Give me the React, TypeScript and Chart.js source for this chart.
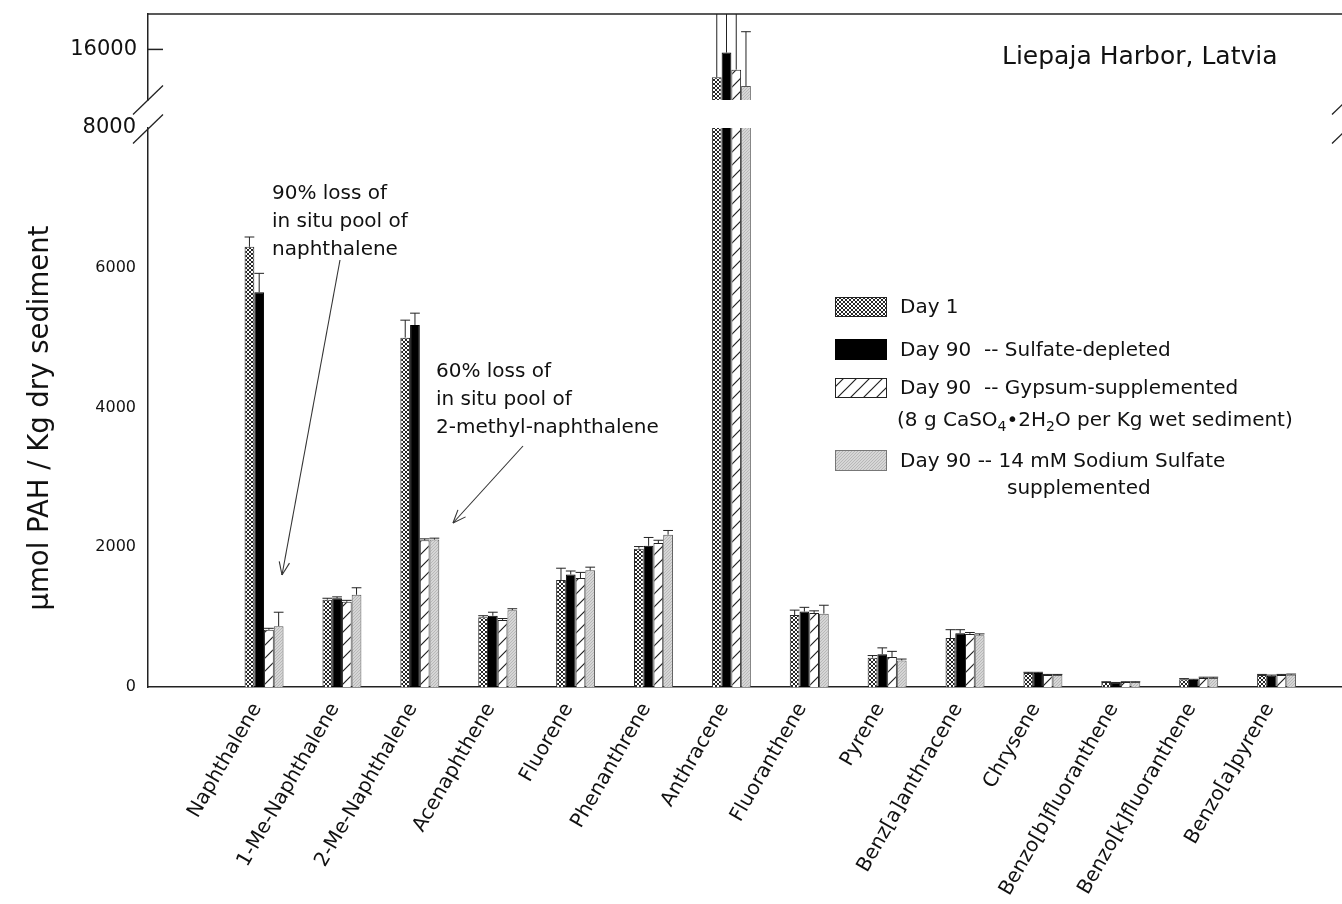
import React, { useEffect, useRef } from 'react';
import { Chart, registerables } from 'chart.js';

Chart.register(...registerables);

const FONT = '"DejaVu Sans", "Liberation Sans", Arial, sans-serif';

const categories = [
  'Naphthalene',
  '1-Me-Naphthalene',
  '2-Me-Naphthalene',
  'Acenaphthene',
  'Fluorene',
  'Phenanthrene',
  'Anthracene',
  'Fluoranthene',
  'Pyrene',
  'Benz[a]anthracene',
  'Chrysene',
  'Benzo[b]fluoranthene',
  'Benzo[k]fluoranthene',
  'Benzo[a]pyrene',
];

const seriesLabels = [
  'Day 1',
  'Day 90  -- Sulfate-depleted',
  'Day 90  -- Gypsum-supplemented',
  'Day 90 -- 14 mM Sodium Sulfate',
];

const day1 = [6300, 1250, 5000, 1000, 1530, 1980, 13800, 1030, 420, 700, 200, 70, 110, 170];
const day1Err = [140, 20, 250, 20, 170, 30, 6000, 70, 30, 120, 10, 5, 10, 10];
const sulfateDepleted = [5650, 1270, 5180, 1020, 1610, 2020, 15750, 1080, 470, 770, 200, 60, 100, 160];
const sulfateDepletedErr = [270, 20, 170, 50, 50, 120, 4000, 60, 90, 50, 10, 5, 10, 10];
const gypsum = [820, 1220, 2100, 960, 1560, 2060, 14400, 1060, 430, 760, 170, 70, 130, 170];
const gypsumErr = [20, 20, 20, 20, 80, 40, 5000, 30, 80, 20, 10, 5, 10, 10];
const sodiumSulfate = [870, 1320, 2110, 1100, 1670, 2180, 13100, 1050, 380, 740, 170, 70, 130, 175];
const sodiumSulfateErr = [200, 100, 20, 20, 45, 60, 4300, 120, 20, 20, 10, 5, 10, 10];

const lowerTicks = [0, 2000, 4000, 6000, 8000];
const upperTicks = [16000];
const lowerRange = [0, 8000];
const upperRange = [12000, 18800];
const xRange = [-1.49, 13.84];

const chartTitle = 'Liepaja Harbor, Latvia';
const yTitle = 'µmol PAH / Kg dry sediment';
const note1 = ['90% loss of', 'in situ pool of', 'naphthalene'];
const note2 = ['60% loss of', 'in situ pool of', '2-methyl-naphthalene'];
const gypsumDetail: [string, boolean][] = [
  ['(8 g CaSO', false],
  ['4', true],
  ['•2H', false],
  ['2', true],
  ['O per Kg wet sediment)', false],
];
const sodiumDetail = 'supplemented';

function makePatterns() {
  const mk = (w: number, h: number, draw: (g: CanvasRenderingContext2D) => void) => {
    const c = document.createElement('canvas');
    c.width = w;
    c.height = h;
    const g = c.getContext('2d')!;
    draw(g);
    return g.createPattern(c, 'repeat')!;
  };
  const dots = mk(4, 4, (g) => {
    g.fillStyle = '#fff';
    g.fillRect(0, 0, 4, 4);
    g.fillStyle = '#262626';
    [[1, 0], [2, 0], [0, 1], [3, 1], [0, 2], [3, 2], [1, 3], [2, 3]].forEach(([x, y]) => g.fillRect(x, y, 1, 1));
  });
  const hatch = mk(13, 13, (g) => {
    g.fillStyle = '#fff';
    g.fillRect(0, 0, 13, 13);
    g.strokeStyle = '#222';
    g.lineWidth = 1.2;
    g.beginPath();
    g.moveTo(0, 13);
    g.lineTo(13, 0);
    g.moveTo(-2, 2);
    g.lineTo(2, -2);
    g.moveTo(11, 15);
    g.lineTo(15, 11);
    g.stroke();
  });
  const gray = mk(3, 3, (g) => {
    g.fillStyle = '#d6d6d6';
    g.fillRect(0, 0, 3, 3);
    g.fillStyle = '#b8b8b8';
    g.fillRect(0, 0, 1, 1);
    g.fillRect(2, 1, 1, 1);
    g.fillRect(1, 2, 1, 1);
  });
  return { dots, hatch, gray };
}

export default function App() {
  const ref = useRef<HTMLCanvasElement>(null);

  useEffect(() => {
    const canvas = ref.current!;
    const pat = makePatterns();
    const series = [
      { label: seriesLabels[0], data: day1, err: day1Err, fill: pat.dots, border: '#2a2a2a' },
      { label: seriesLabels[1], data: sulfateDepleted, err: sulfateDepletedErr, fill: '#000', border: '#000' },
      { label: seriesLabels[2], data: gypsum, err: gypsumErr, fill: pat.hatch, border: '#222' },
      { label: seriesLabels[3], data: sodiumSulfate, err: sodiumSulfateErr, fill: pat.gray, border: '#555' },
    ];

    const mkDs = (axis: string) =>
      series.map((s, k) => ({
        label: s.label,
        data: s.data.map((y, i) => ({ x: i, y })),
        yAxisID: axis,
        stack: 's' + k,
        backgroundColor: s.fill,
        borderColor: s.border,
        borderWidth: 1,
        categoryPercentage: 0.5,
        barPercentage: 1.0,
      }));

    const sectionClip = {
      id: 'sectionClip',
      beforeDatasetDraw(chart: any, args: any) {
        const ds = chart.data.datasets[args.index];
        const sc = chart.scales[ds.yAxisID];
        const { ctx, chartArea } = chart;
        ctx.save();
        ctx.beginPath();
        ctx.rect(chartArea.left, sc.top, chartArea.right - chartArea.left, sc.bottom - sc.top);
        ctx.clip();
      },
      afterDatasetDraw(chart: any) {
        chart.ctx.restore();
      },
    };

    const errorBars = {
      id: 'errorBars',
      afterDatasetsDraw(chart: any) {
        const { ctx, chartArea } = chart;
        const sections = [chart.scales.yLow, chart.scales.yHigh];
        series.forEach((s, k) => {
          const meta = chart.getDatasetMeta(k);
          sections.forEach((sc: any) => {
            ctx.save();
            ctx.beginPath();
            ctx.rect(chartArea.left, sc.top, chartArea.right - chartArea.left, sc.bottom - sc.top);
            ctx.clip();
            ctx.strokeStyle = '#222';
            ctx.lineWidth = 1;
            meta.data.forEach((bar: any, i: number) => {
              const v = s.data[i];
              const e = s.err[i];
              const x = bar.x;
              const w = bar.width;
              const y0 = sc.getPixelForValue(v);
              const y1 = sc.getPixelForValue(v + e);
              ctx.beginPath();
              ctx.moveTo(x, y0);
              ctx.lineTo(x, y1);
              ctx.moveTo(x - w / 2, y1);
              ctx.lineTo(x + w / 2, y1);
              ctx.stroke();
            });
            ctx.restore();
          });
        });
      },
    };

    const decor = {
      id: 'decor',
      afterDraw(chart: any) {
        const { ctx, chartArea } = chart;
        const yLow = chart.scales.yLow;
        const yHigh = chart.scales.yHigh;
        const line = (x1: number, y1: number, x2: number, y2: number) => {
          ctx.beginPath();
          ctx.moveTo(x1, y1);
          ctx.lineTo(x2, y2);
          ctx.stroke();
        };
        ctx.save();
        ctx.strokeStyle = '#222';
        ctx.lineWidth = 1.5;
        line(chartArea.left, chartArea.top, chartArea.right, chartArea.top);
        const y16 = yHigh.getPixelForValue(upperTicks[0]);
        line(chartArea.left, y16, chartArea.left + 15, y16);
        ctx.lineWidth = 1.3;
        for (const by of [yHigh.bottom, yLow.top + 1]) {
          for (const bx of [chartArea.left, chartArea.right + 5]) {
            line(bx - 15, by + 14.5, bx + 15, by - 14.5);
          }
        }

        ctx.fillStyle = '#111';
        ctx.textBaseline = 'middle';

        // y-axis title
        ctx.save();
        ctx.translate(41, 418);
        ctx.rotate(-Math.PI / 2);
        ctx.textAlign = 'center';
        ctx.font = `27.5px ${FONT}`;
        ctx.fillText(yTitle, 0, 0);
        ctx.restore();

        ctx.textAlign = 'left';
        ctx.font = `25px ${FONT}`;
        ctx.fillText(chartTitle, 1002, 57);

        ctx.font = `20px ${FONT}`;
        note1.forEach((t, i) => ctx.fillText(t, 272, 194 + i * 28));
        note2.forEach((t, i) => ctx.fillText(t, 436, 372 + i * 28));

        // arrows
        ctx.strokeStyle = '#333';
        ctx.lineWidth = 1.1;
        const arrow = (x1: number, y1: number, x2: number, y2: number) => {
          line(x1, y1, x2, y2);
          const a = Math.atan2(y2 - y1, x2 - x1);
          const L = 14;
          for (const d of [0.38, -0.38]) {
            line(x2, y2, x2 - L * Math.cos(a + d), y2 - L * Math.sin(a + d));
          }
        };
        arrow(340, 260, 282, 575);
        arrow(523, 446, 453, 523);

        // legend
        const rows = [
          { y: 297, h: 20, fill: pat.dots, border: '#222' },
          { y: 339, h: 21, fill: '#000', border: '#000' },
          { y: 378, h: 20, fill: pat.hatch, border: '#222' },
          { y: 450, h: 21, fill: pat.gray, border: '#777' },
        ];
        ctx.font = `20px ${FONT}`;
        rows.forEach((r, k) => {
          ctx.fillStyle = r.fill;
          ctx.fillRect(835, r.y, 52, r.h);
          ctx.strokeStyle = r.border;
          ctx.lineWidth = 1;
          ctx.strokeRect(835.5, r.y + 0.5, 51, r.h - 1);
          ctx.fillStyle = '#111';
          ctx.fillText(seriesLabels[k], 900, r.y + r.h / 2 + 1);
        });
        let x = 897;
        gypsumDetail.forEach(([t, sub]) => {
          ctx.font = sub ? `14px ${FONT}` : `20px ${FONT}`;
          ctx.fillText(t, x, sub ? 427 : 421);
          x += ctx.measureText(t).width;
        });
        ctx.font = `20px ${FONT}`;
        ctx.fillText(sodiumDetail, 1007, 489);
        ctx.restore();
      },
    };

    const yFit = (s: any) => {
      s.width = 148;
      s.paddingTop = 0;
      s.paddingBottom = 0;
    };

    const chart = new Chart(canvas, {
      type: 'bar',
      data: { datasets: [...mkDs('yLow'), ...mkDs('yHigh')] as any },
      options: {
        responsive: false,
        animation: false,
        layout: { padding: { top: 14, left: 0, right: 0, bottom: 0 } },
        plugins: { legend: { display: false }, tooltip: { enabled: false }, title: { display: false } },
        scales: {
          x: {
            type: 'linear',
            min: xRange[0],
            max: xRange[1],
            bounds: 'data',
            offset: false,
            grid: { display: false },
            border: { display: true, color: '#222', width: 1.5 },
            afterBuildTicks: (s: any) => {
              s.ticks = categories.map((_, i) => ({ value: i }));
            },
            afterFit: (s: any) => {
              s.height = 217;
              s.paddingLeft = 0;
              s.paddingRight = 0;
            },
            ticks: {
              autoSkip: false,
              minRotation: 60,
              maxRotation: 60,
              padding: 4,
              labelOffset: -7,
              color: '#111',
              font: { size: 20, family: FONT },
              callback: (v: any) => categories[v] ?? '',
            },
          },
          yLow: {
            type: 'linear',
            position: 'left',
            stack: 'v',
            stackWeight: 559,
            stacked: false,
            min: lowerRange[0],
            max: lowerRange[1],
            beginAtZero: false,
            grid: { display: false },
            border: { display: true, color: '#222', width: 1.5 },
            afterBuildTicks: (s: any) => {
              s.ticks = lowerTicks.map((value) => ({ value }));
            },
            afterFit: yFit,
            ticks: {
              padding: 4,
              color: '#111',
              font: (c: any) => ({ size: c.tick && c.tick.value === 8000 ? 21 : 16, family: FONT }),
              callback: (v: any) => String(v),
            },
          },
          yGap: {
            type: 'linear',
            position: 'left',
            stack: 'v',
            stackWeight: 28,
            stacked: false,
            min: 0,
            max: 1,
            grid: { display: false },
            border: { display: false },
            ticks: { display: false },
            afterFit: yFit,
          },
          yHigh: {
            type: 'linear',
            position: 'left',
            stack: 'v',
            stackWeight: 86,
            stacked: false,
            min: upperRange[0],
            max: upperRange[1],
            beginAtZero: false,
            grid: { display: false },
            border: { display: true, color: '#222', width: 1.5 },
            afterBuildTicks: (s: any) => {
              s.ticks = upperTicks.map((value) => ({ value }));
            },
            afterFit: yFit,
            ticks: {
              padding: 3,
              color: '#111',
              font: { size: 21, family: FONT },
              callback: (v: any) => String(v),
            },
          },
        } as any,
      },
      plugins: [sectionClip, errorBars, decor],
    });

    return () => chart.destroy();
  }, []);

  return (
    <div style={{ position: 'fixed', left: 0, top: 0, width: 1342, height: 904, background: '#fff', overflow: 'hidden' }}>
      <canvas ref={ref} width={1342} height={904} style={{ display: 'block', width: 1342, height: 904 }} />
    </div>
  );
}
